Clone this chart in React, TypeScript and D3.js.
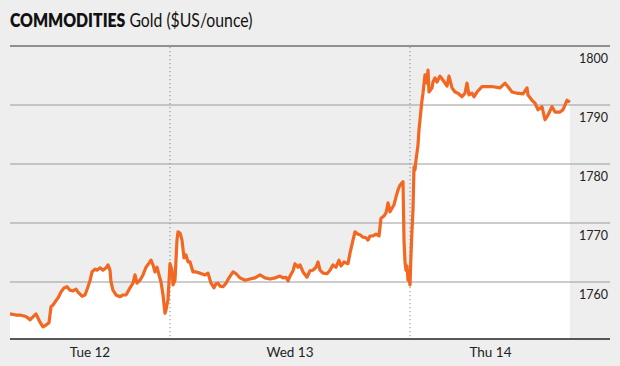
import * as d3 from 'd3';

// Gold spot price, hours counted from Tue 12 00:00
const gold: [number, number][] = [
  [8.0, 1754.6], [8.6, 1754.4], [9.0, 1754.4], [9.5, 1754.2], [9.8, 1753.9], [10.0, 1753.6],
  [10.3, 1754.1], [10.6, 1754.6], [10.8, 1753.9], [11.0, 1753.2], [11.3, 1752.4], [11.6, 1752.7],
  [11.9, 1753.1], [12.1, 1755.8], [12.3, 1756.1], [12.5, 1756.6], [12.8, 1757.3], [13.1, 1758.3],
  [13.4, 1759.0], [13.7, 1759.2], [14.0, 1758.6], [14.3, 1758.5], [14.6, 1758.8], [14.8, 1758.3],
  [15.2, 1757.6], [15.5, 1757.8], [15.8, 1759.2], [16.0, 1760.2], [16.2, 1761.7], [16.5, 1762.2],
  [16.7, 1762.0], [17.0, 1762.4], [17.3, 1762.0], [17.6, 1762.4], [17.8, 1762.9], [18.0, 1762.0],
  [18.1, 1760.0], [18.3, 1758.6], [18.6, 1757.8], [19.0, 1757.5], [19.3, 1757.8], [19.6, 1757.8],
  [20.0, 1759.0], [20.3, 1759.8], [20.5, 1761.2], [20.7, 1759.8], [21.0, 1760.3], [21.3, 1761.2],
  [21.6, 1762.5], [21.9, 1763.2], [22.1, 1763.7], [22.3, 1762.9], [22.5, 1761.7], [22.7, 1762.5],
  [22.9, 1761.2], [23.1, 1760.0], [23.3, 1757.8], [23.5, 1754.7], [23.6, 1755.3], [23.8, 1757.0],
  [24.0, 1763.1], [24.2, 1762.0], [24.3, 1759.5], [24.5, 1760.3], [24.7, 1767.1], [24.8, 1768.5],
  [25.0, 1768.3], [25.2, 1767.1], [25.4, 1764.1], [25.6, 1764.6], [25.8, 1763.4], [26.0, 1763.4],
  [26.3, 1761.7], [26.6, 1761.7], [27.0, 1761.5], [27.5, 1761.2], [27.8, 1761.5], [28.1, 1759.8],
  [28.4, 1759.0], [28.6, 1759.7], [28.8, 1759.8], [29.0, 1759.3], [29.3, 1759.2], [29.6, 1759.8],
  [29.9, 1760.7], [30.3, 1761.7], [30.6, 1761.4], [31.0, 1760.7], [31.5, 1760.3], [32.0, 1760.5],
  [32.5, 1760.7], [33.0, 1761.2], [33.5, 1760.7], [34.0, 1760.5], [34.5, 1760.7], [35.0, 1761.0],
  [35.3, 1760.7], [35.6, 1760.8], [35.8, 1760.2], [36.0, 1761.0], [36.3, 1761.9], [36.5, 1763.1],
  [36.8, 1762.5], [37.0, 1762.9], [37.3, 1761.7], [37.7, 1760.8], [38.0, 1761.9], [38.3, 1762.0],
  [38.6, 1762.5], [38.8, 1763.4], [39.0, 1762.0], [39.3, 1761.5], [39.7, 1761.4], [40.0, 1762.0],
  [40.3, 1762.9], [40.6, 1762.5], [40.9, 1763.7], [41.1, 1762.7], [41.4, 1763.4], [41.8, 1763.1],
  [42.0, 1764.9], [42.3, 1767.1], [42.5, 1768.5], [42.8, 1768.1], [43.0, 1768.0], [43.3, 1767.6],
  [43.6, 1767.5], [43.8, 1767.1], [44.0, 1767.8], [44.3, 1767.8], [44.6, 1768.1], [44.9, 1767.8],
  [45.1, 1770.8], [45.4, 1771.2], [45.6, 1771.7], [45.8, 1773.4], [46.0, 1771.9], [46.2, 1772.5],
  [46.4, 1773.1], [46.6, 1774.4], [46.8, 1775.6], [47.0, 1776.4], [47.2, 1776.8], [47.3, 1777.0],
  [47.4, 1767.1], [47.5, 1763.4], [47.6, 1762.0], [47.7, 1762.7], [47.8, 1760.3], [47.9, 1760.7],
  [48.0, 1759.5], [48.1, 1764.6], [48.2, 1768.8], [48.3, 1772.2], [48.4, 1779.5], [48.5, 1779.0],
  [48.6, 1780.7], [48.7, 1781.9], [48.8, 1783.2], [48.9, 1785.8], [49.0, 1787.5], [49.1, 1789.2],
  [49.2, 1790.8], [49.3, 1792.0], [49.5, 1795.1], [49.6, 1794.6], [49.7, 1793.7], [49.8, 1795.9],
  [49.9, 1792.2], [50.2, 1792.9], [50.3, 1793.9], [50.5, 1794.6], [50.7, 1793.9], [51.0, 1794.9],
  [51.3, 1794.2], [51.7, 1793.2], [51.9, 1794.9], [52.2, 1792.9], [52.5, 1792.2], [52.8, 1792.0],
  [53.2, 1791.4], [53.5, 1792.0], [53.7, 1793.7], [53.9, 1791.7], [54.2, 1792.0], [54.4, 1791.4],
  [54.7, 1792.2], [55.2, 1793.1], [55.7, 1793.1], [56.3, 1793.1], [57.0, 1792.9], [57.5, 1793.7],
  [57.8, 1793.1], [58.2, 1792.2], [58.7, 1792.0], [59.3, 1791.9], [59.7, 1792.9], [59.8, 1791.7],
  [60.2, 1790.8], [60.5, 1790.3], [60.8, 1789.2], [61.2, 1789.7], [61.5, 1787.5], [61.8, 1788.3],
  [62.2, 1789.7], [62.5, 1788.8], [63.0, 1788.8], [63.3, 1789.2], [63.7, 1790.8], [64.0, 1790.5],
];

const dayLabels = ['Tue 12', 'Wed 13', 'Thu 14'];
const dayStarts = [0, 24, 48];
const yTicks = [1760, 1770, 1780, 1790, 1800];

const W = 620;
const H = 366;
const left = 10;
const plotRight = 571;
const gridRight = 610;
const bottom = 339;
const bg = '#eeeeee';
const orange = '#f26722';
const font = 'Lato, "Open Sans", sans-serif';

export default function App() {
  const x = d3.scaleLinear().domain([8, 64.1]).range([left, plotRight]);
  const y = d3.scaleLinear().domain([1760, 1790]).range([282, 105]);

  const line = d3.line<[number, number]>()
    .x(d => x(d[0]))
    .y(d => y(d[1]));
  const area = d3.area<[number, number]>()
    .x(d => x(d[0]))
    .y0(bottom)
    .y1(d => y(d[1]));

  const [x0, x1] = x.domain();

  return (
    <svg width={W} height={H} style={{ position: 'absolute', left: 0, top: 0, background: bg }}>
      <rect width={W} height={H} fill={bg} />

      {/* title, squeezed horizontally to look like the condensed original */}
      <g transform={`translate(${left},27) scale(0.81,1)`}>
        <text x={0} y={0} fontFamily={font} fontSize={19.5} fill="#111">
          <tspan fontWeight={800}>COMMODITIES</tspan>
          <tspan dx={5}>Gold ($US/ounce)</tspan>
        </text>
      </g>

      {/* white fill under the price */}
      <path d={area(gold) ?? ''} fill="#fff" />

      {/* day separators */}
      {dayStarts.filter(h => h > x0 && h < x1).map(h => (
        <line key={h} x1={x(h)} x2={x(h)} y1={47} y2={bottom}
          stroke="#999" strokeWidth={1.2} strokeDasharray="1.2,2.8" />
      ))}

      {/* gridlines */}
      {yTicks.filter(t => t < 1800).map(t => (
        <line key={t} x1={left} x2={gridRight} y1={y(t)} y2={y(t)} stroke="#9a9a9a" strokeWidth={1} />
      ))}
      <line x1={left} x2={gridRight} y1={y(1800)} y2={y(1800)} stroke="#333" strokeWidth={1.2} />

      {yTicks.map(t => (
        <text key={t} x={608} y={y(t) + 17} textAnchor="end" fontFamily={font} fontSize={12.5} fill="#222">
          {t}
        </text>
      ))}

      <path d={line(gold) ?? ''} fill="none" stroke={orange} strokeWidth={3.2} strokeLinejoin="round" />

      {/* bottom axis */}
      <line x1={left} x2={gridRight} y1={bottom} y2={bottom} stroke="#222" strokeWidth={1.5} />

      {dayLabels.map((lab, i) => {
        const a = Math.max(dayStarts[i], x0);
        const b = Math.min(dayStarts[i] + 24, x1);
        return (
          <text key={lab} x={(x(a) + x(b)) / 2} y={357} textAnchor="middle" fontFamily={font} fontSize={13.5} fill="#222">
            {lab}
          </text>
        );
      })}
    </svg>
  );
}
